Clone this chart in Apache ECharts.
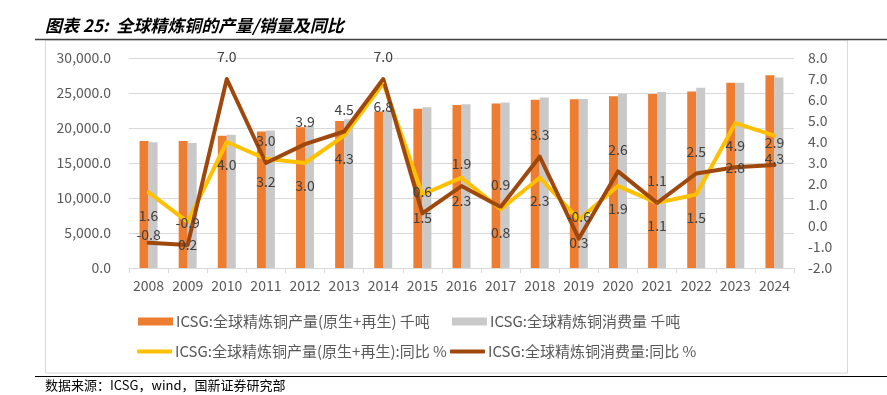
<!DOCTYPE html>
<html>
<head>
<meta charset="utf-8">
<script src="https://cdn.jsdelivr.net/npm/echarts@6/dist/echarts.min.js"></script>
<style>
html,body{margin:0;padding:0;background:#fff;}
#chart{width:887px;height:395px;}
</style>
</head>
<body>
<div id="chart"></div>
<script>
const years = ['2008','2009','2010','2011','2012','2013','2014','2015','2016','2017','2018','2019','2020','2021','2022','2023','2024'];
const production = [18150,18150,18900,19500,20100,21000,22350,22750,23300,23500,24050,24100,24550,24850,25200,26450,27550];
const consumption = [17950,17850,19050,19650,20300,21250,22600,22950,23400,23650,24350,24150,24900,25150,25750,26450,27200];
const productionYoY = [1.6,0.2,4.0,3.2,3.0,4.3,6.8,1.5,2.3,0.8,2.3,0.3,1.9,1.1,1.5,4.9,4.3];
const consumptionYoY = [-0.8,-0.9,7.0,3.0,3.9,4.5,7.0,0.6,1.9,0.9,3.3,-0.6,2.6,1.1,2.5,2.8,2.9];
const names = ['ICSG:全球精炼铜产量(原生+再生) 千吨','ICSG:全球精炼铜消费量 千吨','ICSG:全球精炼铜产量(原生+再生):同比 %','ICSG:全球精炼铜消费量:同比 %'];

const FONT = '"Noto Sans CJK SC", "Noto Sans", sans-serif';
const chart = echarts.init(document.getElementById('chart'), null, {renderer:'canvas'});

// label placement tweaks (style only), keyed by category index
const brownLabelTweaks = {0:{position:'top', distance:0}, 15:{position:'inside'}};

function legendAt(name, left, top, isLine){
  return {
    data:[name], left:left, top:top, orient:'horizontal', padding:0,
    itemWidth:35, itemHeight: isLine ? 4 : 8, itemGap:4,
    icon: isLine ? 'roundRect' : 'rect',
    textStyle:{fontFamily:FONT, fontSize:15, color:'#595959', padding:[0,0,0,-2]},
    selectedMode:false
  };
}

chart.setOption({
  animation:false,
  textStyle:{fontFamily:FONT},
  grid:{left:129, right:93, top:58, bottom:127, containLabel:false},
  legend:[
    legendAt(names[0],138,314,false),
    legendAt(names[1],452,314,false),
    legendAt(names[2],137,344,true),
    legendAt(names[3],450,344,true)
  ],
  xAxis:{
    type:'category', data:years, boundaryGap:true,
    axisLine:{lineStyle:{color:'#d9d9d9'}},
    axisTick:{show:true, alignWithLabel:false, interval:0, length:5, lineStyle:{color:'#d9d9d9'}},
    axisLabel:{color:'#595959', fontSize:14, margin:11, interval:0, fontFamily:FONT}
  },
  yAxis:[
    {type:'value', min:0, max:30000, interval:5000,
     axisLine:{show:false}, axisTick:{show:false},
     splitLine:{lineStyle:{color:'#d9d9d9'}},
     axisLabel:{color:'#595959', fontSize:14, margin:18, fontFamily:FONT,
       formatter:v=>v.toLocaleString('en-US',{minimumFractionDigits:1,maximumFractionDigits:1})}},
    {type:'value', min:-2, max:8, interval:1,
     axisLine:{show:false}, axisTick:{show:false}, splitLine:{show:false},
     axisLabel:{color:'#595959', fontSize:14, margin:14, fontFamily:FONT,
       formatter:v=>v.toFixed(1)}}
  ],
  series:[
    {name:names[0], type:'bar', data:production, barWidth:9, barGap:'0%',
     itemStyle:{color:'#ED7D31'}},
    {name:names[1], type:'bar', data:consumption, barWidth:9, barGap:'0%',
     itemStyle:{color:'#C9C9C9'}},
    {name:names[2], type:'line', yAxisIndex:1, data:productionYoY,
     symbol:'circle', symbolSize:2, showSymbol:true,
     itemStyle:{color:'#FFC000'},
     lineStyle:{color:'#FFC000', width:4, cap:'round', join:'round'},
     label:{show:true, position:'bottom', distance:15, color:'#404040', fontSize:14, fontFamily:FONT,
       formatter:p=>p.value.toFixed(1)}},
    {name:names[3], type:'line', yAxisIndex:1,
     data:consumptionYoY.map((v,i)=>brownLabelTweaks[i] ? {value:v, label:brownLabelTweaks[i]} : v),
     symbol:'circle', symbolSize:2, showSymbol:true,
     itemStyle:{color:'#9E480E'},
     lineStyle:{color:'#9E480E', width:4, cap:'round', join:'round'},
     label:{show:true, position:'top', distance:14, color:'#404040', fontSize:14, fontFamily:FONT,
       formatter:p=>Number(p.value).toFixed(1)}}
  ],
  graphic:[
    {type:'rect', shape:{x:45.5, y:40, width:802, height:333}, style:{fill:'none', stroke:'#d9d9d9', lineWidth:1}, silent:true, z:-1},
    {type:'line', shape:{x1:35, y1:39.5, x2:887, y2:39.5}, style:{stroke:'#404040', lineWidth:1.5}, silent:true},
    {type:'line', shape:{x1:35, y1:376.5, x2:887, y2:376.5}, style:{stroke:'#000', lineWidth:1}, silent:true},
    {type:'text', left:45, top:17, style:{text:'图表 25:  全球精炼铜的产量/销量及同比', fill:'#000', font:'italic bold 17px ' + FONT}},
    {type:'text', left:45, top:379, style:{text:'数据来源：ICSG，wind，国新证券研究部', fill:'#000', font:'13px ' + FONT}}
  ]
});
</script>
</body>
</html>
